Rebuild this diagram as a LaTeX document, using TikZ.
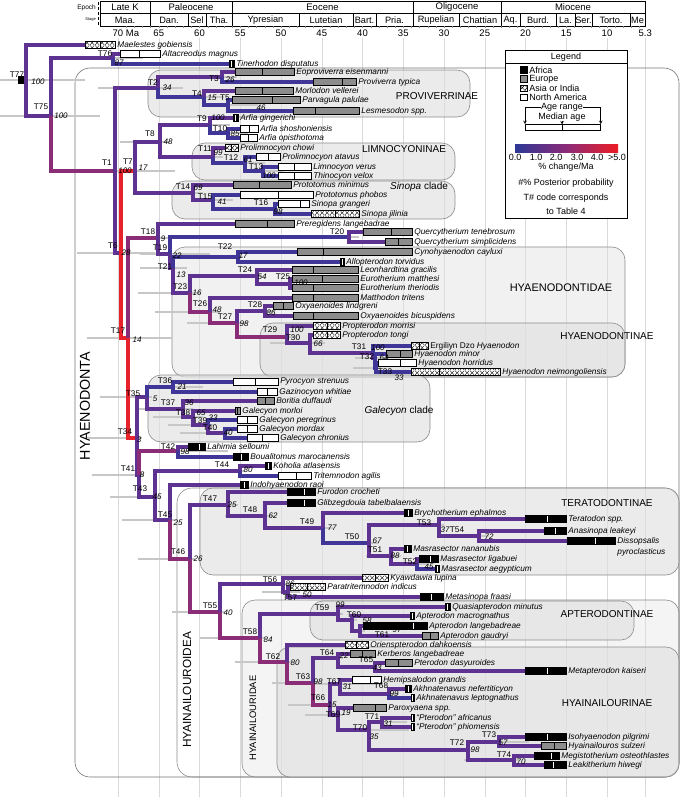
\documentclass[tikz,border=0pt]{standalone}
\usepackage{fontspec}
\setmainfont{Liberation Sans}
\usetikzlibrary{positioning,patterns}

\definecolor{rlow}{RGB}{64,54,152}
\definecolor{rmid}{RGB}{94,50,145}
\definecolor{rhigh}{RGB}{138,44,118}
\definecolor{rtop}{RGB}{232,34,42}
\definecolor{cbblue}{RGB}{44,56,150}
\definecolor{cbmid}{RGB}{140,42,120}
\definecolor{cbred}{RGB}{237,28,36}

\pgfdeclarepatternformonly{xcells}{\pgfpointorigin}{\pgfpoint{5pt}{5pt}}{\pgfpoint{5pt}{5pt}}{%
  \pgfsetlinewidth{0.4pt}%
  \pgfpathmoveto{\pgfpointorigin}\pgfpathlineto{\pgfpoint{5pt}{5pt}}%
  \pgfpathmoveto{\pgfpoint{0pt}{5pt}}\pgfpathlineto{\pgfpoint{5pt}{0pt}}%
  \pgfusepath{stroke}}

\tikzset{
  branch/.style={line width=3.3pt},
  hpd/.style={line width=2.6pt, black!22},
  grid/.style={black!15, line width=0.5pt},
  cell/.style={line width=0.8pt},
  bar/.style={draw=black, line width=0.7pt, inner sep=0pt, minimum height=6.5pt, anchor=west},
  afr/.style={fill=black},
  eur/.style={fill=black!45},
  asia/.style={fill=white, postaction={pattern=xcells}},
  nam/.style={fill=white},
  med-afr/.style={white},
  med-eur/.style={black},
  med-asia/.style={black},
  med-nam/.style={black},
  taxlab/.style={font=\fontsize{8.3}{9.5}\selectfont\itshape, inner sep=0pt},
  tlab/.style={font=\fontsize{8.2}{9}\selectfont, inner sep=0pt},
  pp/.style={font=\fontsize{8}{9}\selectfont\itshape, inner sep=0pt},
  epochtxt/.style={font=\fontsize{9.5}{10}\selectfont, inner sep=0pt},
  stagetxt/.style={font=\fontsize{9.2}{10}\selectfont, inner sep=0pt},
  numtxt/.style={font=\fontsize{9.5}{10}\selectfont, inner sep=0pt},
  legtxt/.style={font=\fontsize{9}{10}\selectfont, inner sep=0pt},
  clade/.style={rounded corners=13pt, draw=black!45, line width=0.6pt, fill=black!12, fill opacity=0.65},
  cladename/.style={font=\fontsize{10}{11}\selectfont, inner sep=0pt},
}

\begin{document}
\begin{tikzpicture}[x=1pt, y=-1pt, declare function={ma(\q)=118+(70-\q)*8.15;}]
\useasboundingbox (0,0) rectangle (684,800);

% time scale
\foreach \nm/\xa/\xb/\tx in {latek/100/150/Late K, paleo/150/232/Paleocene, eoc/232/413/Eocene,
  oligo/413/501/Oligocene, mio/501/645/Miocene}{
  \draw[cell] (\xa,1.5) rectangle (\xb,13);
  \node[epochtxt] (ep-\nm) at ({(\xa+\xb)/2},7.5) {\tx};
}
\foreach \nm/\xa/\xb/\tx in {maa/100/150/Maa., dan/150/188/Dan., sel/188/206/Sel, tha/206/232/Tha.,
  ypr/232/299/Ypresian, lut/299/353/Lutetian, bart/353/376/Bart., pria/376/413/Pria.,
  rup/413/459/Rupelian, chat/459/501/Chattian, aq/501/520/Aq., burd/520/556/Burd.,
  la/556/575/La., ser/575/592/Ser., tort/592/630/Torto., me/630/645/Me}{
  \draw[cell] (\xa,13) rectangle (\xb,26.5);
  \node[stagetxt] (st-\nm) at ({(\xa+\xb)/2},20) {\tx};
}
\node[font=\fontsize{6.5}{7}\selectfont, inner sep=0pt, anchor=east] (lab-epoch) at (96,7.5) {Epoch};
\node[font=\fontsize{4}{5}\selectfont, inner sep=0pt, anchor=east] (lab-stage) at (96,20) {Stage};
\draw[densely dashed, line width=0.5pt] (98.5,2) -- (98.5,26);
\foreach \q in {6,...,69}
  \draw[black!45, line width=0.3pt] ({ma(\q)},26.5) -- ({ma(\q)},28.5);

\node[numtxt, anchor=west] (tick70) at (112.5,33) {70 Ma};
\foreach \q in {65,60,...,10}
  \node[numtxt] (tick\q) at ({ma(\q)},33) {\q};
\node[numtxt] (tick5) at ({ma(5.3)},33) {5.3};

\foreach \q in {70,65,60,55,50,45,40,35,30,25,20,15,10,5.3}
  \draw[grid] ({ma(\q)},38) -- ({ma(\q)},797);

% clade boxes
\draw[rounded corners=15pt, draw=black!55, line width=0.6pt] (75,68) rectangle (679,777);
\draw[rounded corners=15pt, draw=black!45, line width=0.6pt] (177,488) rectangle (679,777);
\draw[clade, fill opacity=0.35] (242,600) rectangle (679,777);
\draw[clade] (277,647) rectangle (679,777);
\draw[clade] (310,601) rectangle (634,640);
\draw[clade] (200,488) rectangle (679,575);
\draw[clade, fill opacity=0.45] (172,247) rectangle (625,377);
\draw[clade] (260,323) rectangle (625,377);
\draw[clade] (148,375) rectangle (430,442);
\draw[clade] (148,70) rectangle (470,117);
\draw[clade] (192,143) rectangle (455,180);
\draw[clade] (172,181) rectangle (455,219);

\node[cladename] (nm-prov) at (437,96) {PROVIVERRINAE};
\node[cladename] (nm-limno) at (404,149) {LIMNOCYONINAE};
\node[cladename] (nm-sinopa) at (419,187) {\textit{Sinopa} clade};
\node[cladename, font=\fontsize{11}{12}\selectfont] (nm-hyaenodontidae) at (561,288) {HYAENODONTIDAE};
\node[cladename] (nm-hyaenodontinae) at (607,336) {HYAENODONTINAE};
\node[cladename] (nm-galecyon) at (399,411) {\textit{Galecyon} clade};
\node[cladename] (nm-terato) at (607,503) {TERATODONTINAE};
\node[cladename] (nm-aptero) at (607,614) {APTERODONTINAE};
\node[cladename] (nm-hyainailourinae) at (607,703) {HYAINAILOURINAE};
\node[cladename, font=\fontsize{14.3}{15}\selectfont, rotate=90] (nm-hyaenodonta) at (85,406) {HYAENODONTA};
\node[cladename, font=\fontsize{11.8}{12}\selectfont, rotate=90] (nm-hyainailouroidea) at (187,690) {HYAINAILOUROIDEA};
\node[cladename, font=\fontsize{9.4}{10}\selectfont, rotate=90] (nm-hyainailouridae) at (253,718) {HYAINAILOURIDAE};

% legend
\node[draw, line width=0.9pt, fill=white, minimum width=122pt, minimum height=168pt,
  inner sep=0pt, anchor=north west] (legend) at (505,50) {};
\draw[line width=0.9pt] (505,63) -- (627,63);
\node[legtxt] (lg-title) at (566,57) {Legend};
\foreach \nm/\yy/\st/\tx in {africa/70/afr/Africa, europe/79/eur/Europe,
  asia/88.5/asia/Asia or India, namerica/97.5/nam/North America}{
  \node[bar, \st, minimum width=6.5pt] (lg-\nm) at (520,\yy) {};
  \node[legtxt, right=2pt of lg-\nm] (lgt-\nm) {\tx};
}
\node[legtxt] (lg-agerange) at (562,107.5) {Age range};
\node[legtxt] (lg-median) at (562,117) {Median age};
\node[bar, nam, minimum width=75pt, minimum height=6pt] (lg-bar) at (525,127.5) {};
\draw[line width=0.7pt] (562,124.5) -- (562,130.5);
\coordinate (lg-mid) at (562,124.5);
\draw[->, >=stealth, line width=0.6pt] (lg-agerange.west) -| (lg-bar.north west);
\draw[->, >=stealth, line width=0.6pt] (lg-agerange.east) -| (lg-bar.north east);
\draw[->, >=stealth, line width=0.6pt] (lg-median.south -| lg-mid) -- (lg-mid);
\shade[left color=cbblue, right color=cbred, middle color=cbmid] (515,144.5) rectangle (618,152);
\foreach \nm/\xx/\tx in {a/515/0.0, b/536/1.0, c/556/2.0, d/577/3.0, e/597/4.0, f/617/>5.0}
  \node[legtxt] (cb-\nm) at (\xx,157) {\tx};
\node[legtxt] (lg-rate) at (566,167) {\% change/Ma};
\node[legtxt] (lg-pp) at (566,183) {\#\% Posterior probability};
\node[legtxt] (lg-code) at (566,198) {T\# code corresponds};
\node[legtxt] (lg-table) at (566,211) {to Table 4};

% internal nodes
\foreach \nm/\xx/\yy in {T77/26/80, T75/51/116, T76/113/58, T1/115/171, T2/158/88, T3/222/77,
  T4/204/97, T5/228/105, T6/121/253, T7/135/171, T8/160/142, T9/210/125, T10/228/133,
  T11/213/157, T12/245/163, T13/263/171, T14/193/193, T15/213/200, T16/275/209,
  T17/128/338, T18/158/238, T19/170/254, T20/349/237, T21/173/268, T22/238/257,
  T23/190/293, T24/257/276, T25/290/284, T26/210/312, T27/237/323, T28/265/311,
  T29/287/337, T30/310/343, T31/373/353, T32/375/358, T33/376/368, T34/137/438,
  T35/147/397, T36/173/387, T37/183/409, T38/193/417, T39/208/425, T40/225/433,
  T41/139/475, T42/178/451, T43/155/497, T44/240/471, T45/170/520, T46/190/559,
  T47/228/505, T48/265/516, T49/323/528, T50/369/543, T51/391/556, T52/417/564,
  T53/439/525, T54/479/536, T55/220/612, T56/283/584, T57/288/592, T58/260/638,
  T59/338/614, T60/352/620, T61/360/631, T62/287/662, T63/313/683, T64/338/658,
  T65/375/667, T66/330/705, T67/340/684, T68/389/694, T69/338/715, T70/369/730,
  T71/382/722, T72/468/750, T73/499/742, T74/514/760}
  \coordinate (\nm) at (\xx,\yy);

% node age ranges
\foreach \nm/\lo/\hi in {T77/26/59, T75/51/49, T76/15/30, T1/40/60, T2/60/25, T3/20/15, T4/25/20,
  T5/10/30, T6/44/34, T7/15/40, T8/40/10, T9/10/20, T10/10/20, T11/40/10, T12/20/20, T13/10/20,
  T14/35/10, T15/15/20, T16/22/5, T17/41/44, T18/30/50, T19/30/40, T20/30/10, T21/33/14,
  T22/40/5, T23/52/10, T24/60/5, T25/15/5, T26/55/10, T27/50/10, T28/20/10, T29/20/10,
  T30/40/15, T31/20/10, T32/20/10, T33/23/5, T34/50/5, T35/47/5, T36/25/30, T37/45/10,
  T38/40/10, T39/40/5, T40/45/5, T41/47/5, T42/10/50, T43/45/5, T44/55/5, T45/48/5,
  T46/52/5, T47/30/10, T48/40/10, T49/40/10, T50/40/10, T51/25/10, T52/10/10, T53/30/5,
  T54/20/10, T55/48/5, T56/20/10, T57/26/12, T58/60/5, T59/23/5, T60/15/5, T61/10/5,
  T62/52/5, T63/41/5, T64/20/5, T65/20/5, T66/42/5, T67/37/42, T68/15/10, T69/33/5,
  T70/26/40, T71/5/25, T72/48/5, T73/12/30, T74/50/5}
  \draw[hpd] ([xshift=-\lo pt]\nm) -- ([xshift=\hi pt]\nm);

% taxa: name / y / start / end / median / region / label
\node[bar, afr, minimum width=8pt] (rootbar) at (18,80) {};
\foreach \nm/\yy/\xa/\xb/\xm/\st/\tx in {
  maelestes/45/85/115/100/asia/Maelestes gobiensis,
  altacreodus/54/120/160/139/nam/Altacreodus magnus,
  tinerhodon/64/229/234/231.5/afr/Tinerhodon disputatus,
  eoproviverra/72/235/294/262/eur/Eoproviverra eisenmanni,
  proviverra/82/313/356/342/eur/Proviverra typica,
  morlodon/91/235/293/262/eur/Morlodon vellerei,
  parvagula/100/232/300/272/eur/Parvagula palulae,
  lesmesodon/111/293/359/315/eur/Lesmesodon spp.,
  arfiaging/118/233/238/235.5/afr/Arfia gingerichi,
  arfiashosh/129/240/258/249/nam/Arfia shoshoniensis,
  arfiaopis/138/240/257/248/nam/Arfia opisthotoma,
  prolchowi/148/225/238/231/asia/Prolimnocyon chowi,
  prolatavus/157/256/280/268/nam/Prolimnocyon atavus,
  limnocyon/167/278/311/294/nam/Limnocyon verus,
  thinocyon/176/278/311/294/nam/Thinocyon velox,
  protominimus/185/233/291/259/eur/Prototomus minimus,
  protophobos/195/240/313/278/nam/Prototomus phobos,
  sinograngeri/204/278/309/300/nam/Sinopa grangeri,
  sinojilinia/214/311/359/335/asia/Sinopa jilinia,
  preregidens/224/235/294/267/eur/Preregidens langebadrae,
  quercteneb/232/363/412/391/eur/Quercytherium tenebrosum,
  quercsimpl/242/385/412/398/eur/Quercytherium simplicidens,
  cynohyaenodon/252/297/412/323/eur/Cynohyaenodon cayluxi,
  allopterodon/262/340/344/342/afr/Allopterodon torvidus,
  leonhardtina/270/292/358/313/eur/Leonhardtina gracilis,
  eurmatthesi/279/292/358/322/eur/Eurotherium matthesi,
  eurtheriodis/288/292/358/313/eur/Eurotherium theriodis,
  matthodon/298/292/358/313/eur/Matthodon tritens,
  oxylindgreni/306/273/293/283/eur/Oxyaenoides lindgreni,
  oxybicusp/316/293/358/313/eur/Oxyaenoides bicuspidens,
  proptmorrisi/326/313/340/327/asia/Propterodon morrisi,
  propttongi/335/313/340/327/asia/Propterodon tongi,
  ergiliyn/346/411/428/419/asia/{\upshape Ergiliyn Dzo} Hyaenodon,
  hyaenminor/354/386/412/400/eur/Hyaenodon minor,
  hyaenhorridus/363/378/416/400/nam/Hyaenodon horridus,
  hyaenneimong/372/411/500/439/asia/Hyaenodon neimongoliensis,
  pyrocyon/382/233/278/255/nam/Pyrocyon strenuus,
  gazinocyon/392/257/277/267/nam/Gazinocyon whitiae,
  boritia/401/257/274/265/eur/Boritia duffaudi,
  galmorloi/411/235/240/237.5/eur/Galecyon morloi,
  galperegrinus/420/237/257/247/nam/Galecyon peregrinus,
  galmordax/429/237/257/247/nam/Galecyon mordax,
  galchronius/438/247/278/262/nam/Galecyon chronius,
  lahimia/447/188/205/199/afr/Lahimia selloumi,
  boualitomus/457/233/248/241/afr/Boualitomus marocanensis,
  koholia/466/265/271/268/afr/Koholia atlasensis,
  tritemnodon/476/278/311/296/nam/Tritemnodon agilis,
  indohyaenodon/485/240/248/244/afr/Indohyaenodon raoi,
  furodon/492/287/315/304/afr/Furodon crocheti,
  glibzegdouia/503/287/315/304/afr/Glibzegdouia tabelbalaensis,
  brychotherium/513/404/412/408/afr/Brychotherium ephalmos,
  teratodon/519/525/566/547/afr/Teratodon spp.,
  anasinopa/531/544/566/555/afr/Anasinopa leakeyi,
  dissopsalis/541/567/615/595/afr/Dissopsalis,
  masrnananubis/549/404/411/407.5/afr/Masrasector nananubis,
  masrligabuei/559/419/438/430/afr/Masrasector ligabuei,
  masraegypticum/569/435/439/437/afr/Masrasector aegypticum,
  kyawdawia/578/362/388/375/asia/Kyawdawia lupina,
  paratritemnodon/587/290/325/307/asia/Paratritemnodon indicus,
  metasinopa/597/420/443/431/afr/Metasinopa fraasi,
  quasiapterodon/607/445/450/447.5/afr/Quasiapterodon minutus,
  aptmacrognathus/616/410/414/412/afr/Apterodon macrognathus,
  aptlangebadreae/626/363/427/413/afr/Apterodon langebadreae,
  aptgaudryi/636/422/438/430/eur/Apterodon gaudryi,
  orienspterodon/645/345/368/356/asia/Orienspterodon dahkoensis,
  kerberos/654/350/375/362/eur/Kerberos langebadreae,
  pterodasyuroides/663/385/412/398/eur/Pterodon dasyuroides,
  metapterodon/671/525/566/547/afr/Metapterodon kaiseri,
  hemipsalodon/680/352/381/370/nam/Hemipsalodon grandis,
  akhnefertiticyon/689/405/411/408/afr/Akhnatenavus nefertiticyon,
  akhleptognathus/698/411/414/412.5/afr/Akhnatenavus leptognathus,
  paroxyaena/708/353/386/375/eur/Paroxyaena spp.,
  pteroafricanus/718/411/414/412.5/afr/``Pterodon'' africanus,
  pterophiomensis/727/411/414/412.5/afr/``Pterodon'' phiomensis,
  isohyaenodon/737/525/566/547/afr/Isohyaenodon pilgrimi,
  hyainailouros/746/541/566/554/eur/Hyainailouros sulzeri,
  megistotherium/756/534/559/551/afr/Megistotherium osteothlastes,
  leakitherium/765/544/566/553/afr/Leakitherium hiwegi}{
  \node[bar, \st, minimum width={\xb-\xa}] (\nm) at (\xa,\yy) {};
  \draw[med-\st, line width=0.7pt] (\xm,\yy-3.25) -- (\xm,\yy+3.25);
  \node[taxlab, right=1.5pt of \nm] (lab-\nm) {\tx};
}
\node[taxlab, anchor=north west] (lab-pyro) at ([yshift=-3pt]lab-dissopsalis.south west) {pyroclasticus};

% branches: parent / child / rate colour
\foreach \pa/\ch/\co in {
  T77/maelestes/rmid, T77/T75/rmid, T75/T76/rmid, T75/T1/rhigh,
  T76/altacreodus/rmid, T76/tinerhodon/rlow,
  T1/T2/rmid, T1/T6/rmid, T2/T3/rmid, T2/T4/rlow,
  T3/eoproviverra/rmid, T3/proviverra/rlow, T4/morlodon/rmid, T4/T5/rlow,
  T5/parvagula/rlow, T5/lesmesodon/rlow,
  T6/T7/rtop, T6/T17/rtop, T7/T8/rmid, T7/T14/rmid,
  T8/T9/rmid, T8/T11/rmid, T9/arfiaging/rmid, T9/T10/rlow,
  T10/arfiashosh/rlow, T10/arfiaopis/rlow,
  T11/prolchowi/rmid, T11/T12/rlow, T12/prolatavus/rlow, T12/T13/rlow,
  T13/limnocyon/rlow, T13/thinocyon/rlow,
  T14/protominimus/rmid, T14/T15/rmid, T15/protophobos/rlow, T15/T16/rlow,
  T16/sinograngeri/rlow, T16/sinojilinia/rlow,
  T17/T18/rhigh, T17/T34/rtop,
  T18/preregidens/rmid, T18/T19/rmid, T19/T20/rlow, T19/T21/rmid,
  T20/quercteneb/rmid, T20/quercsimpl/rmid,
  T21/T22/rlow, T21/T23/rmid, T22/cynohyaenodon/rlow, T22/allopterodon/rlow,
  T23/T24/rmid, T23/T26/rhigh, T24/leonhardtina/rmid, T24/T25/rmid,
  T25/eurmatthesi/rmid, T25/eurtheriodis/rmid,
  T26/matthodon/rmid, T26/T27/rhigh, T27/T28/rmid, T27/T29/rhigh,
  T28/oxylindgreni/rmid, T28/oxybicusp/rmid,
  T29/proptmorrisi/rmid, T29/T30/rmid, T30/propttongi/rmid, T30/T31/rmid,
  T31/ergiliyn/rlow, T31/T32/rmid, T32/hyaenminor/rlow, T32/T33/rlow,
  T33/hyaenhorridus/rlow, T33/hyaenneimong/rlow,
  T34/T35/rmid, T34/T41/rmid, T35/T36/rlow, T35/T37/rmid,
  T36/pyrocyon/rlow, T36/gazinocyon/rlow,
  T37/boritia/rmid, T37/T38/rmid, T38/galmorloi/rmid, T38/T39/rmid,
  T39/galperegrinus/rlow, T39/T40/rmid, T40/galmordax/rlow, T40/galchronius/rlow,
  T41/T42/rhigh, T41/T43/rmid, T42/lahimia/rmid, T42/boualitomus/rlow,
  T43/T44/rmid, T43/T45/rmid, T44/koholia/rmid, T44/tritemnodon/rlow,
  T45/indohyaenodon/rmid, T45/T46/rhigh, T46/T47/rmid, T46/T55/rhigh,
  T47/furodon/rmid, T47/T48/rmid, T48/glibzegdouia/rmid, T48/T49/rmid,
  T49/brychotherium/rmid, T49/T50/rlow, T50/T51/rmid, T50/T53/rmid,
  T51/masrnananubis/rmid, T51/T52/rmid, T52/masrligabuei/rmid, T52/masraegypticum/rlow,
  T53/teratodon/rmid, T53/T54/rmid, T54/anasinopa/rmid, T54/dissopsalis/rmid,
  T55/T56/rmid, T55/T58/rhigh, T56/kyawdawia/rmid, T56/T57/rmid,
  T57/paratritemnodon/rmid, T57/metasinopa/rmid,
  T58/T59/rmid, T58/T62/rhigh, T59/quasiapterodon/rmid, T59/T60/rmid,
  T60/aptmacrognathus/rmid, T60/T61/rmid, T61/aptlangebadreae/rmid, T61/aptgaudryi/rmid,
  T62/orienspterodon/rmid, T62/T63/rhigh, T63/T64/rmid, T63/T66/rhigh,
  T64/kerberos/rmid, T64/T65/rmid, T65/pterodasyuroides/rmid, T65/metapterodon/rmid,
  T66/T67/rmid, T66/T69/rmid, T67/hemipsalodon/rmid, T67/T68/rmid,
  T68/akhnefertiticyon/rmid, T68/akhleptognathus/rlow,
  T69/paroxyaena/rmid, T69/T70/rmid, T70/T71/rmid, T70/T72/rmid,
  T71/pteroafricanus/rmid, T71/pterophiomensis/rmid,
  T72/T73/rmid, T72/T74/rmid, T73/isohyaenodon/rmid, T73/hyainailouros/rmid,
  T74/megistotherium/rmid, T74/leakitherium/rmid}
  \draw[branch, \co] (\pa) |- (\ch);

% node codes
\foreach \nm/\xx/\yy in {T77/17/75, T76/105/54, T75/41/107, T1/107/163, T2/153/83, T3/214/79,
  T4/197/94, T5/225/98, T6/113/246, T7/128/162, T8/150/134, T9/202/119, T10/220/129,
  T11/205/149, T12/231/158, T13/256/167, T14/183/187, T15/205/197, T16/261/203,
  T17/118/331, T18/148/232, T19/160/248, T20/337/232, T21/165/267, T22/225/247,
  T23/180/287, T24/245/270, T25/283/277, T26/200/304, T27/225/317, T28/255/305,
  T29/270/330, T30/293/338, T31/359/347, T32/367/357, T33/385/372, T34/125/432,
  T35/133/394, T36/165/381, T37/168/403, T38/183/413, T39/200/421, T40/210/428,
  T41/128/469, T42/168/447, T43/140/489, T44/222/465, T45/165/515, T46/178/552,
  T47/210/499, T48/250/510, T49/307/522, T50/352/537, T51/375/550, T52/410/562,
  T53/424/523, T54/457/530, T55/210/606, T56/270/580, T57/290/598, T58/250/632,
  T59/322/608, T60/354/615, T61/382/635, T62/273/657, T63/303/677, T64/327/653,
  T65/366/660, T66/318/698, T67/334/682, T68/381/686, T69/333/715, T70/360/728,
  T71/372/717, T72/457/743, T73/489/735, T74/504/755}
  \node[tlab] (code\nm) at (\xx,\yy) {\nm};

% posterior probabilities
\foreach \nm/\xx/\yy/\pr in {T77/38/82/100, T76/119/63/87, T75/61/116/100, T1/125/171/100,
  T2/167/88/34, T3/230/80/26, T4/212/98/15, T5/261/108/46, T6/126/253/28, T7/143/168/17,
  T8/168/142/48, T9/218/118/100, T10/235/134/85, T11/218/153/99, T12/248/160/61,
  T13/269/176/100, T14/198/188/69, T15/222/202/41, T16/278/212/98, T17/137/340/14,
  T18/163/239/9, T19/177/256/22, T21/181/275/13, T22/243/256/17, T23/197/293/16,
  T24/262/277/54, T25/301/283/100, T26/217/310/48, T27/244/324/98, T28/271/313/86,
  T29/297/330/100, T30/318/344/66, T31/378/348/100, T32/384/358/64, T33/399/378/33,
  T34/139/440/3, T35/155/399/5, T36/182/387/21, T37/189/403/36, T38/201/413/65,
  T39/213/418/33, T40/228/433/40, T41/142/475/8, T42/185/452/98, T43/157/497/45,
  T44/248/470/80, T45/178/523/25, T46/198/559/26, T47/232/505/25, T48/273/516/62,
  T49/332/528/77, T50/377/541/67, T51/395/556/88, T52/429/567/45, T53/445/530/37,
  T54/489/537/72, T55/228/613/40, T56/290/584/86, T57/307/595/50, T58/268/640/84,
  T59/340/605/99, T60/367/621/58, T61/397/630/97, T62/295/663/80, T63/318/682/98,
  T64/344/656/22, T65/377/668/43, T66/332/705/15, T67/347/687/31, T68/394/694/99,
  T69/346/713/19, T70/374/737/35, T71/388/724/31, T72/475/750/98, T73/503/743/57,
  T74/521/762/70}
  \node[pp] (pp\nm) at (\xx,\yy) {\pr};
\end{tikzpicture}
\end{document}
